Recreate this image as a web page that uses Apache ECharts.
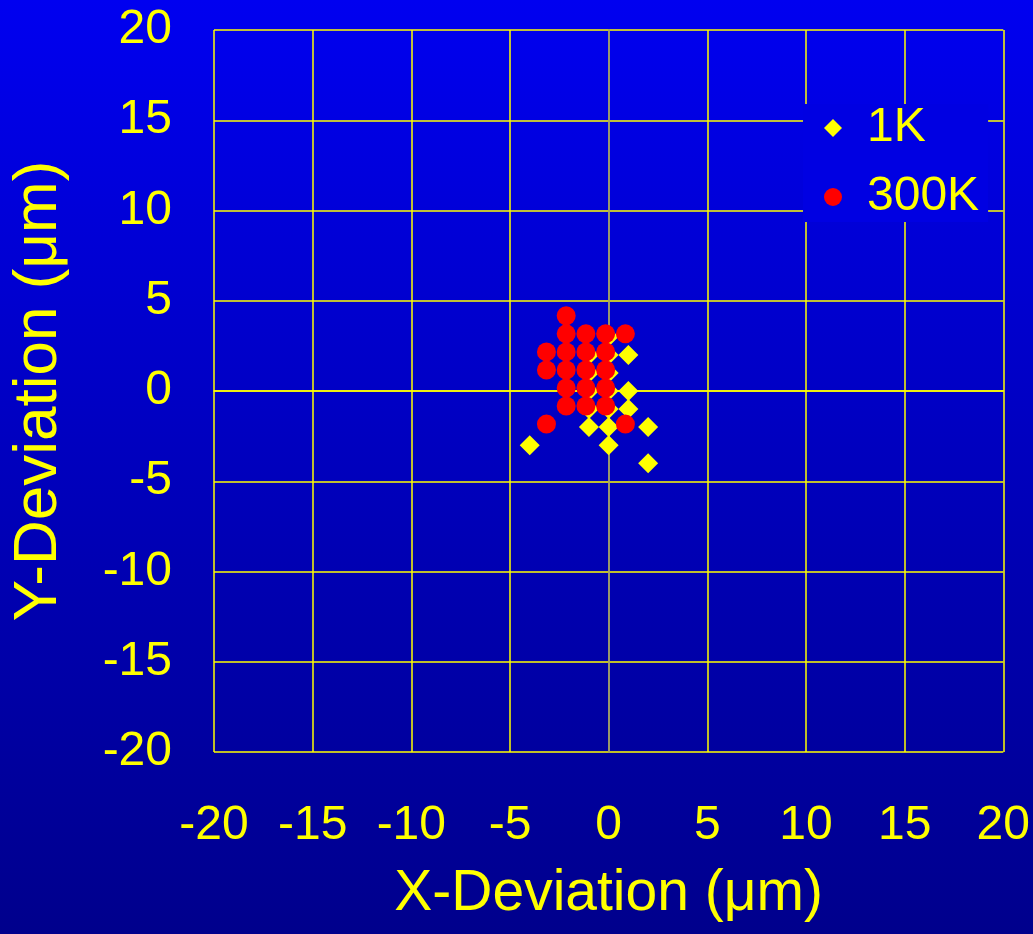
<!DOCTYPE html>
<html>
<head>
<meta charset="utf-8">
<script src="https://cdn.jsdelivr.net/npm/echarts@6/dist/echarts.min.js"></script>
<style>
  html, body { margin: 0; padding: 0; }
  #main {
    width: 1033px; height: 934px;
    background: linear-gradient(to bottom, #0000f0 0%, #0000b8 55%, #00008c 100%);
  }
</style>
</head>
<body>
<div id="main"></div>
<script>
// 1K 点 (x, y)
var data1K = [
  [1, 2], [1, 0], [1, -1], [2, -2], [-1, -2], [0, -2], [0, -3], [-4, -3], [2, -4],
  [0, 3], [0, 2], [0, 1], [0, 0], [0, -1],
  [-1, 2], [-1, 1], [-1, 0], [-1, -1]
];
// 300K 点 (x, y)
var data300K = [
  [-2, 4],
  [-2, 3], [-1, 3], [0, 3], [1, 3],
  [-3, 2], [-2, 2], [-1, 2], [0, 2],
  [-3, 1], [-2, 1], [-1, 1], [0, 1],
  [-2, 0], [-1, 0], [0, 0],
  [-2, -1], [-1, -1], [0, -1],
  [-3, -2], [1, -2]
];
var axisMin = -20, axisMax = 20, axisStep = 5;

var yellow = '#ffff00';
var font = 'Arial, "Liberation Sans", sans-serif';

var myChart = echarts.init(document.getElementById('main'));

var option = {
  backgroundColor: 'transparent',
  animation: false,
  grid: {
    left: 214, right: 29, top: 30, bottom: 182,
    show: false
  },
  legend: {
    orient: 'vertical',
    left: 803,
    top: 104,
    padding: [0, 9, 1, 21],
    itemGap: 21,
    itemWidth: 18,
    itemHeight: 18,
    backgroundColor: '#0000e2',
    textStyle: {
      color: yellow, fontSize: 48, fontFamily: font, lineHeight: 44,
      padding: [0, 0, 0, 20]
    },
    data: [
      { name: '1K', icon: 'diamond' },
      { name: '300K', icon: 'circle' }
    ]
  },
  xAxis: {
    type: 'value',
    min: axisMin, max: axisMax, interval: axisStep,
    name: 'X-Deviation (μm)',
    nameLocation: 'middle',
    nameGap: 114,
    nameTextStyle: { color: yellow, fontSize: 57, fontFamily: font },
    axisLine: { show: true, lineStyle: { color: yellow, width: 1.5 } },
    axisTick: { show: false },
    axisLabel: { color: yellow, fontSize: 48, fontFamily: font, margin: 50 },
    splitLine: { show: true, lineStyle: { color: yellow, width: 1.5 } }
  },
  yAxis: {
    type: 'value',
    min: axisMin, max: axisMax, interval: axisStep,
    name: 'Y-Deviation (μm)',
    nameLocation: 'middle',
    nameGap: 144,
    nameTextStyle: { color: yellow, fontSize: 62, fontFamily: font },
    axisLine: { show: true, lineStyle: { color: '#8a8a80', width: 1.5 } },
    axisTick: { show: false },
    axisLabel: { color: yellow, fontSize: 48, fontFamily: font, margin: 42 },
    splitLine: { show: true, lineStyle: { color: yellow, width: 1.5 } }
  },
  series: [
    {
      name: '1K',
      type: 'scatter',
      symbol: 'diamond',
      symbolSize: 20,
      itemStyle: { color: yellow, opacity: 1 },
      data: data1K
    },
    {
      name: '300K',
      type: 'scatter',
      symbol: 'circle',
      symbolSize: 19,
      symbolOffset: [-3, -3],
      itemStyle: { color: '#ff0000', opacity: 1 },
      data: data300K
    }
  ]
};

myChart.setOption(option);
</script>
</body>
</html>
